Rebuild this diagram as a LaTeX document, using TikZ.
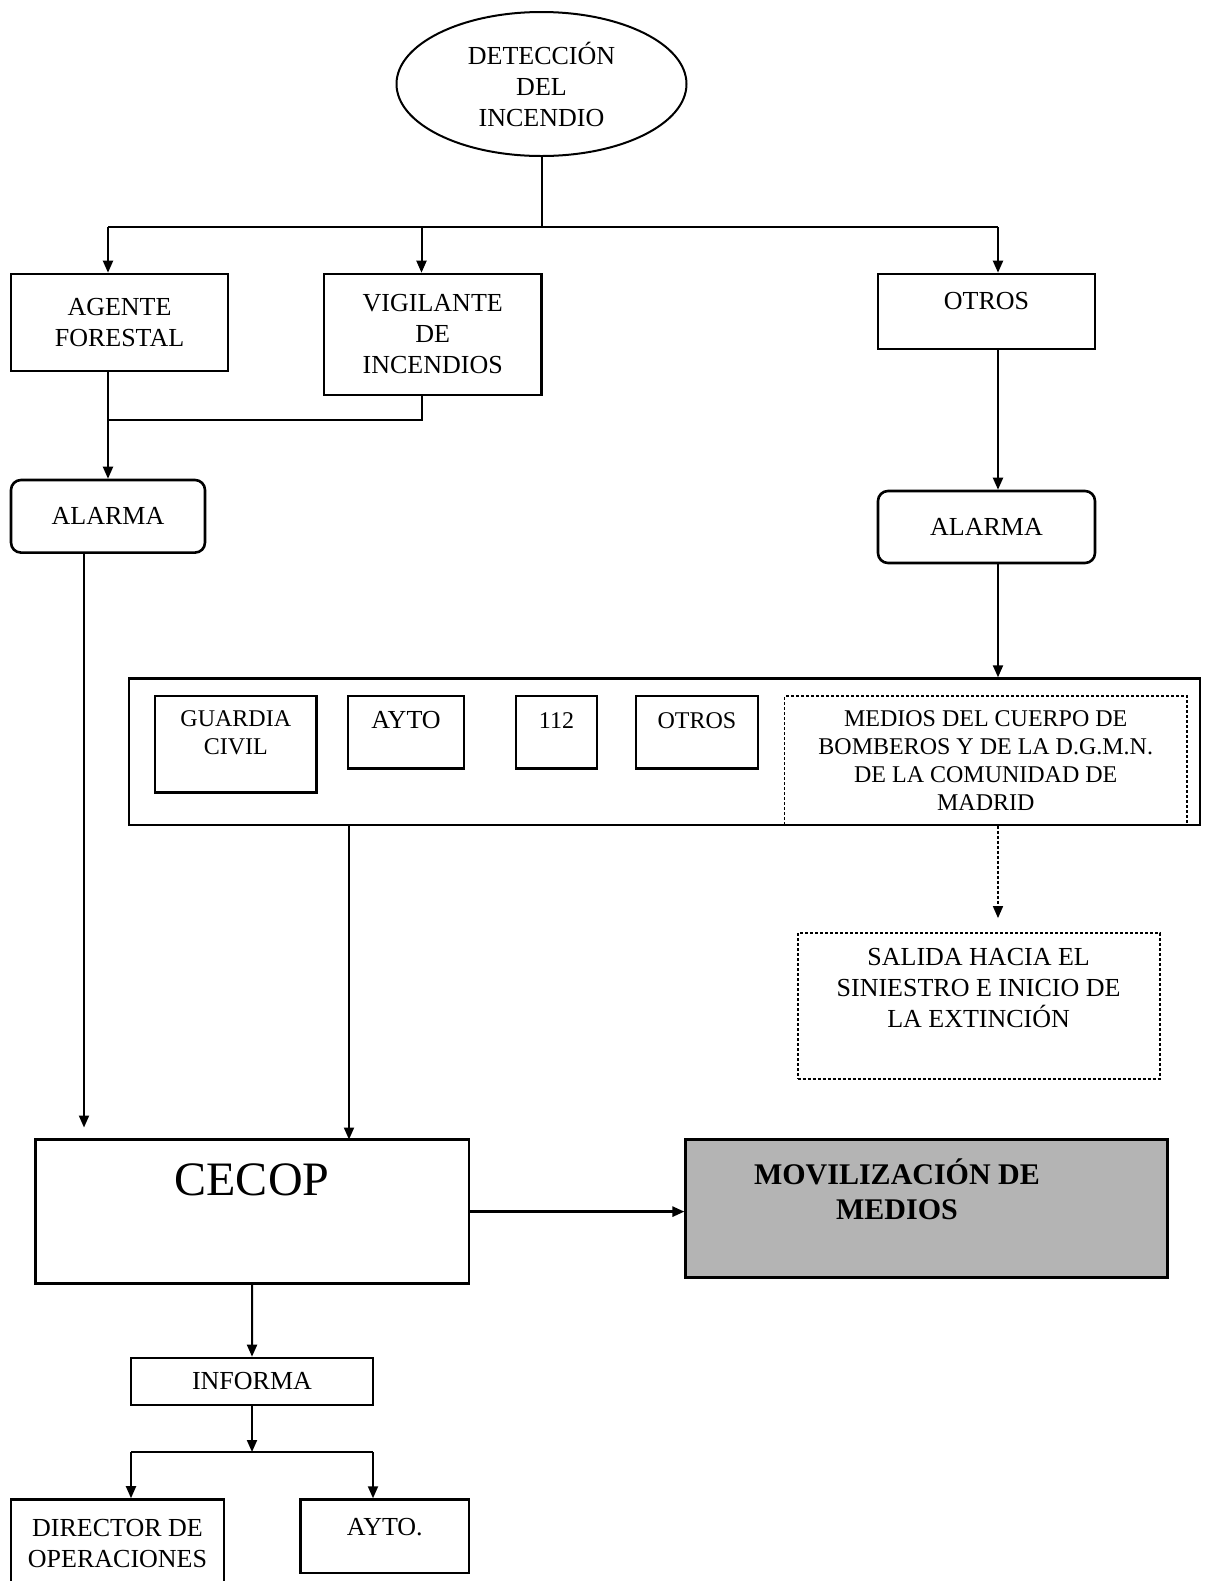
\documentclass[tikz,border=0pt]{standalone}
\usepackage{fontspec}
\setmainfont{Liberation Serif}
\usepackage{xcolor}
\usetikzlibrary{arrows.meta, positioning, shapes.geometric}
\definecolor{movgray}{RGB}{180,180,180}

\begin{document}
\begin{tikzpicture}[x=0.5pt,y=0.5pt,yscale=-1,xscale=1,
  box/.style={draw, line width=1.3pt, inner sep=0pt, align=center, font=\fontsize{13}{15.5}\selectfont},
  rbox/.style={box, rounded corners=5pt},
  dbox/.style={draw, line width=0.9pt, dash pattern=on 1.5pt off 1pt, inner sep=0pt, align=center, font=\fontsize{13}{15.5}\selectfont},
  small/.style={font=\fontsize{12}{14}\selectfont},
  line/.style={line width=1pt},
  arr/.style={line width=1pt, -{Triangle[length=6pt,width=5pt]}}]
%set diagram left start at 0, and has height of 1581
\path [use as bounding box] (0,0) rectangle (1205,1581);
\clip (0,0) rectangle (1205,1581);

%Shape: Ellipse
\node [box, ellipse, line width=1pt, minimum width=145pt, minimum height=72pt] (det) at (541.5,84) {DETECCIÓN\\DEL\\INCENDIO};

%Shape: Rectangle
\node [box, minimum width=108.5pt, minimum height=48.5pt] (agente) at (119.5,322.5) {AGENTE\\FORESTAL};
%Shape: Rectangle
\node [box, minimum width=108.75pt, minimum height=60.5pt] (vigil) at (432.75,334.5) {VIGILANTE\\DE\\INCENDIOS};
%Shape: Rectangle
\node [box, text depth=11pt, minimum width=108.5pt, minimum height=37.5pt] (otros) at (986.5,311.5) {OTROS};

%Shape: Rounded Rect
\node [rbox, minimum width=97pt, minimum height=36.3pt] (alarmaA) at (108,516.3) {ALARMA};
%Shape: Rounded Rect
\node [rbox, minimum width=108.5pt, minimum height=36pt] (alarmaB) at (986.5,527) {ALARMA};

%Shape: Rectangle
\node [box, minimum width=535.5pt, minimum height=73.2pt] (grupo) at (664.5,751.8) {};
%Shape: Rectangle
\node [box, small, text depth=12pt, minimum width=80.8pt, minimum height=48.3pt] (guardia) at (235.8,744.3) {GUARDIA\\CIVIL};
%Shape: Rectangle
\node [box, text depth=12pt, minimum width=58pt, minimum height=36.2pt] (aytoA) at (406,732.2) {AYTO};
%Shape: Rectangle
\node [box, small, text depth=12pt, minimum width=40.5pt, minimum height=36.2pt] (n112) at (556.5,732.2) {112};
%Shape: Rectangle
\node [box, small, text depth=12pt, minimum width=61pt, minimum height=36.2pt] (otrosB) at (697,732.2) {OTROS};
%Shape: Rectangle
\node [dbox, small, minimum width=201.25pt, minimum height=64.5pt] (medios) at (985.75,760.5) {MEDIOS DEL CUERPO DE\\BOMBEROS Y DE LA D.G.M.N.\\DE LA COMUNIDAD DE\\MADRID};

%Shape: Rectangle
\node [dbox, text depth=18pt, minimum width=181pt, minimum height=73pt] (salida) at (978.6,1006) {SALIDA HACIA EL\\SINIESTRO E INICIO DE\\LA EXTINCIÓN};

%Shape: Rectangle
\node [box, minimum width=216.9pt, minimum height=72.1pt] (cecop) at (252.2,1211.6) {};
%Shape: Rectangle
\node [box, fill=movgray, minimum width=241pt, minimum height=69pt] (movil) at (926.7,1208.5) {};
%Shape: Rectangle
\node [box, minimum width=121pt, minimum height=23.4pt] (informa) at (252,1381.4) {INFORMA};
%Shape: Rectangle
\node [box, minimum width=106.5pt, minimum height=44.3pt] (director) at (117.5,1543.8) {DIRECTOR DE\\OPERACIONES};
%Shape: Rectangle
\node [box, text depth=9pt, minimum width=84.25pt, minimum height=36.75pt] (aytoB) at (384.8,1536.3) {AYTO.};

% Text Node
\node [font=\fontsize{24}{28}\selectfont] (cecopT) at (252,1180) {CECOP};
% Text Node
\node [font=\fontsize{15}{17.6}\selectfont\bfseries, align=center] (movT) at (897,1189.5) {MOVILIZACIÓN DE\\MEDIOS};

%Straight Lines
\coordinate (split) at (541.5,227);
\coordinate (jA) at (108,227);
\coordinate (jV) at (421.5,227);
\coordinate (jO) at (998,227);
\draw [line] (det.south) -- (split);
\draw [line] (jA) -- (jO);
\draw [arr] (jA) -- (jA |- agente.north);
\draw [arr] (jV) -- (jV |- vigil.north);
\draw [arr] (jO) -- (jO |- otros.north);

%Straight Lines
\coordinate (mA) at (108,419.5);
\coordinate (mV) at (421.5,419.5);
\draw [line] (jA |- agente.south) -- (mA);
\draw [line] (mV |- vigil.south) -- (mV) -- (mA);
\draw [arr] (mA) -- (alarmaA.north);
\draw [arr] (jO |- otros.south) -- (jO |- alarmaB.north);
\draw [arr] (jO |- alarmaB.south) -- (jO |- grupo.north);
\draw [arr, line width=0.8pt, dash pattern=on 1.5pt off 1pt, shorten >=7pt] (jO |- medios.south) -- (jO |- salida.north);

%Straight Lines
\coordinate (lA) at (84,1139.5);
\coordinate (lB) at (349,1139.5);
\draw [arr, shorten >=6pt] (alarmaA.south -| lA) -- (lA);
\draw [arr] (grupo.south -| lB) -- (lB);
\draw [arr, line width=1.3pt] (cecop.east) -- (cecop.east -| movil.west);

%Straight Lines
\coordinate (split2) at (252,1452);
\coordinate (jD) at (131,1452);
\coordinate (jY) at (373,1452);
\draw [arr] (cecop.south) -- (informa.north);
\draw [arr] (informa.south) -- (split2);
\draw [line] (jD) -- (jY);
\draw [arr] (jD) -- (jD |- director.north);
\draw [arr] (jY) -- (jY |- aytoB.north);

\end{tikzpicture}
\end{document}
